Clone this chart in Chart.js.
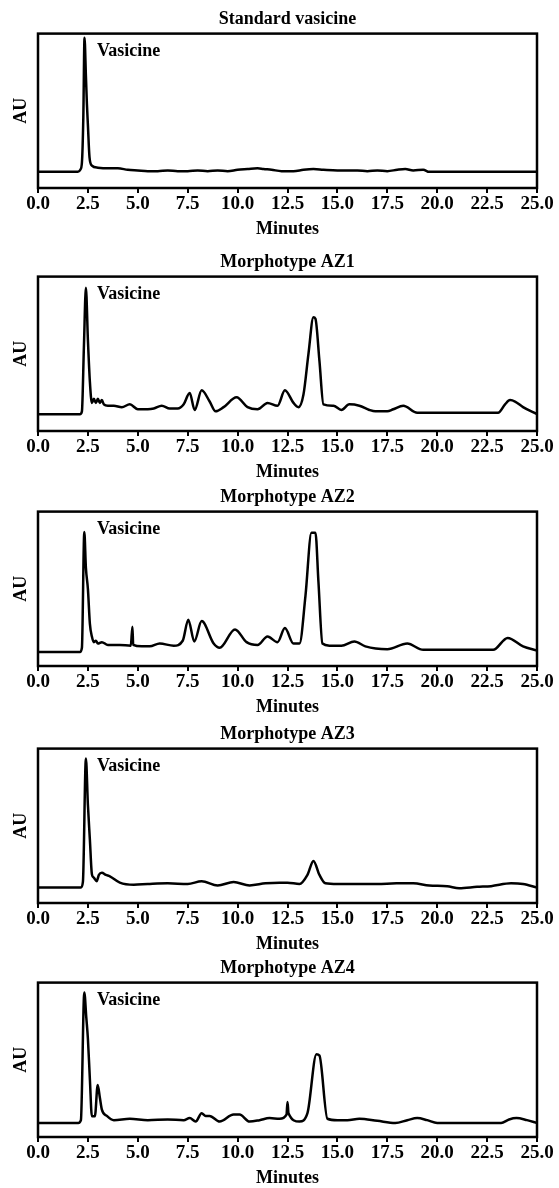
<!DOCTYPE html>
<html>
<head>
<meta charset="utf-8">
<script src="https://cdn.jsdelivr.net/npm/chart.js@4/dist/chart.umd.min.js"></script>
<style>
  body { margin: 0; background: #fff; width: 559px; height: 1188px; overflow: hidden; position: relative; }
  canvas { position: absolute; left: 0; }
</style>
</head>
<body>
<canvas id="p1" width="559" height="240" style="top:0px"></canvas>
<canvas id="p2" width="559" height="240" style="top:243px"></canvas>
<canvas id="p3" width="559" height="240" style="top:478px"></canvas>
<canvas id="p4" width="559" height="240" style="top:715px"></canvas>
<canvas id="p5" width="559" height="240" style="top:949px"></canvas>
<script>
// tick labels on the minutes axis
const minuteTicks = [0, 2.5, 5, 7.5, 10, 12.5, 15, 17.5, 20, 22.5, 25];
const panelTitles = ["Standard vasicine", "Morphotype AZ1", "Morphotype AZ2", "Morphotype AZ3", "Morphotype AZ4"];
const peakLabel = "Vasicine";

// Standard vasicine
const stdTime = [0, 2.0, 2.12, 2.2, 2.27, 2.33, 2.4, 2.45, 2.5, 2.58, 2.7, 3.0, 3.5, 4.0, 4.5, 5.0, 5.5, 6.0, 6.5, 7.0, 7.5, 8.0, 8.5, 9.0, 9.5, 10.0, 10.5, 11.0, 11.3, 11.7, 12.2, 12.8, 13.3, 13.8, 14.3, 15.0, 15.5, 16.0, 16.5, 17.0, 17.5, 18.0, 18.4, 18.8, 19.3, 19.6, 25.0];
const stdAU = [0.015, 0.015, 0.03, 0.08, 0.4, 0.97, 0.7, 0.5, 0.35, 0.12, 0.06, 0.045, 0.04, 0.04, 0.03, 0.025, 0.02, 0.02, 0.025, 0.02, 0.02, 0.025, 0.02, 0.025, 0.02, 0.03, 0.035, 0.04, 0.035, 0.03, 0.02, 0.02, 0.03, 0.035, 0.03, 0.025, 0.025, 0.025, 0.02, 0.025, 0.02, 0.03, 0.035, 0.025, 0.03, 0.015, 0.015];

// Morphotype AZ1
const az1Time = [0, 2.1, 2.2, 2.3, 2.4, 2.5, 2.6, 2.7, 2.8, 2.9, 3.0, 3.1, 3.2, 3.3, 3.5, 3.8, 4.2, 4.6, 5.0, 5.5, 5.8, 6.2, 6.6, 7.0, 7.3, 7.6, 7.85, 8.2, 8.6, 8.9, 9.3, 9.95, 10.5, 11.0, 11.5, 12.0, 12.37, 12.8, 13.05, 13.3, 13.55, 13.8, 13.9, 14.1, 14.3, 14.8, 15.2, 15.6, 16.1, 16.6, 16.9, 17.5, 17.8, 18.3, 19.0, 23.05, 23.4, 23.65, 23.9, 24.3, 25.0];
const az1AU = [0.02, 0.02, 0.04, 0.5, 0.92, 0.55, 0.25, 0.1, 0.13, 0.1, 0.13, 0.1, 0.12, 0.09, 0.08, 0.08, 0.07, 0.09, 0.055, 0.055, 0.06, 0.08, 0.06, 0.06, 0.09, 0.17, 0.05, 0.19, 0.11, 0.04, 0.07, 0.14, 0.07, 0.055, 0.1, 0.08, 0.19, 0.1, 0.07, 0.16, 0.45, 0.71, 0.7, 0.4, 0.09, 0.08, 0.05, 0.09, 0.08, 0.05, 0.04, 0.04, 0.055, 0.08, 0.03, 0.03, 0.09, 0.12, 0.11, 0.07, 0.02];

// Morphotype AZ2
const az2Time = [0, 2.1, 2.2, 2.32, 2.4, 2.5, 2.6, 2.7, 2.8, 2.9, 3.0, 3.2, 3.5, 4.1, 4.65, 4.73, 4.77, 5.2, 5.6, 6.1, 6.8, 7.25, 7.53, 7.83, 8.2, 8.8, 9.1, 9.87, 10.45, 11.0, 11.5, 12.0, 12.37, 12.8, 13.1, 13.4, 13.7, 13.9, 14.05, 14.25, 14.6, 15.2, 15.85, 16.4, 17.5, 18.5, 19.3, 22.8, 23.53, 24.3, 25.0];
const az2AU = [0, 0, 0.03, 0.855, 0.6, 0.45, 0.2, 0.11, 0.07, 0.08, 0.06, 0.07, 0.05, 0.05, 0.045, 0.18, 0.05, 0.04, 0.04, 0.06, 0.045, 0.08, 0.23, 0.075, 0.22, 0.06, 0.03, 0.16, 0.07, 0.05, 0.11, 0.07, 0.17, 0.06, 0.06, 0.4, 0.85, 0.85, 0.5, 0.06, 0.045, 0.045, 0.075, 0.04, 0.02, 0.06, 0.015, 0.015, 0.1, 0.04, 0.01];

// Morphotype AZ3
const az3Time = [0, 2.15, 2.25, 2.4, 2.5, 2.6, 2.7, 2.8, 2.94, 3.05, 3.2, 3.4, 3.6, 4.1, 4.8, 5.5, 6.5, 7.5, 8.2, 9.0, 9.8, 10.6, 11.4, 12.1, 12.5, 13.1, 13.5, 13.8, 14.1, 14.4, 15.0, 16.0, 17.0, 17.96, 18.8, 19.6, 20.5, 21.1, 22.0, 22.7, 23.7, 24.3, 25.0];
const az3AU = [0.01, 0.01, 0.05, 0.93, 0.6, 0.35, 0.105, 0.08, 0.055, 0.1, 0.115, 0.1, 0.09, 0.045, 0.03, 0.035, 0.04, 0.035, 0.055, 0.025, 0.05, 0.025, 0.04, 0.045, 0.045, 0.035, 0.1, 0.2, 0.1, 0.04, 0.035, 0.035, 0.035, 0.04, 0.04, 0.025, 0.02, 0.005, 0.015, 0.02, 0.04, 0.035, 0.01];

// Morphotype AZ4
const az4Time = [0, 2.02, 2.15, 2.32, 2.42, 2.5, 2.6, 2.7, 2.85, 2.99, 3.1, 3.2, 3.45, 3.8, 4.6, 5.5, 6.5, 7.3, 7.6, 7.9, 8.2, 8.4, 8.6, 9.1, 9.8, 10.1, 10.6, 11.1, 11.6, 12.1, 12.45, 12.5, 12.55, 13.1, 13.5, 13.95, 14.1, 14.5, 15.0, 15.5, 16.1, 17.0, 17.9, 18.5, 19.0, 19.5, 20.0, 23.2, 23.6, 23.97, 24.5, 25.0];
const az4AU = [0, 0, 0.02, 0.93, 0.75, 0.6, 0.31, 0.048, 0.048, 0.27, 0.18, 0.095, 0.05, 0.02, 0.03, 0.02, 0.025, 0.02, 0.035, 0.01, 0.07, 0.05, 0.05, 0.01, 0.06, 0.06, 0.01, 0.02, 0.035, 0.03, 0.06, 0.15, 0.07, 0.01, 0.07, 0.49, 0.48, 0.03, 0.02, 0.02, 0.03, 0.015, 0.0, 0.02, 0.035, 0.02, 0.0, 0.0, 0.025, 0.035, 0.02, 0.0];

const FONT = "'Liberation Serif', 'DejaVu Serif', serif";
Chart.defaults.color = "#000";
Chart.defaults.font.family = FONT;

// frame round the plot + the "Vasicine" label
const framePlugin = {
  id: "frame",
  afterDraw(chart) {
    const {ctx, chartArea} = chart;
    ctx.save();
    ctx.strokeStyle = "#000";
    ctx.lineWidth = 2.5;
    ctx.strokeRect(chartArea.left, chartArea.top, chartArea.right - chartArea.left, chartArea.bottom - chartArea.top);
    ctx.font = "bold 18px " + FONT;
    ctx.fillStyle = "#000";
    ctx.textBaseline = "middle";
    ctx.fillText(peakLabel, chartArea.left + 59, chartArea.top + 18);
    ctx.restore();
  }
};

function makeChart(id, title, times, values) {
  const pts = times.map((t, i) => ({x: t, y: values[i]}));
  return new Chart(document.getElementById(id), {
    type: "line",
    data: {
      datasets: [{
        data: pts,
        borderColor: "#000",
        borderWidth: 2.5,
        pointRadius: 0,
        cubicInterpolationMode: "monotone",
        fill: false
      }]
    },
    options: {
      responsive: false,
      animation: false,
      layout: {padding: {left: 0, right: 22, top: 0, bottom: 0}},
      plugins: {
        legend: {display: false},
        tooltip: {enabled: false},
        title: {
          display: true,
          text: title,
          fullSize: false,
          color: "#000",
          font: {size: 18, weight: "bold", family: FONT, lineHeight: 1.2},
          padding: {top: 9, bottom: 3}
        }
      },
      scales: {
        x: {
          type: "linear",
          min: 0,
          max: 25,
          afterBuildTicks(scale) { scale.ticks = minuteTicks.map(v => ({value: v})); },
          afterFit(scale) { scale.height = 52; },
          border: {display: false},
          grid: {drawOnChartArea: false, drawTicks: true, tickLength: 5, color: "#000", lineWidth: 2},
          ticks: {
            color: "#000",
            padding: 0,
            maxRotation: 0,
            autoSkip: false,
            font: {size: 19, weight: "bold", family: FONT},
            callback: v => v.toFixed(1)
          },
          title: {
            display: true,
            text: "Minutes",
            color: "#000",
            padding: {top: 0, bottom: 0},
            font: {size: 18, weight: "bold", family: FONT, lineHeight: 1.2}
          }
        },
        y: {
          min: -0.1,
          max: 1.0,
          afterFit(scale) { scale.width = 38; },
          border: {display: false},
          grid: {display: false},
          ticks: {display: false},
          title: {
            display: true,
            text: "AU",
            color: "#000",
            padding: {top: 11, bottom: 0},
            font: {size: 18, weight: "bold", family: FONT, lineHeight: 1.2}
          }
        }
      }
    },
    plugins: [framePlugin]
  });
}

makeChart("p1", panelTitles[0], stdTime, stdAU);
makeChart("p2", panelTitles[1], az1Time, az1AU);
makeChart("p3", panelTitles[2], az2Time, az2AU);
makeChart("p4", panelTitles[3], az3Time, az3AU);
makeChart("p5", panelTitles[4], az4Time, az4AU);
</script>
</body>
</html>
